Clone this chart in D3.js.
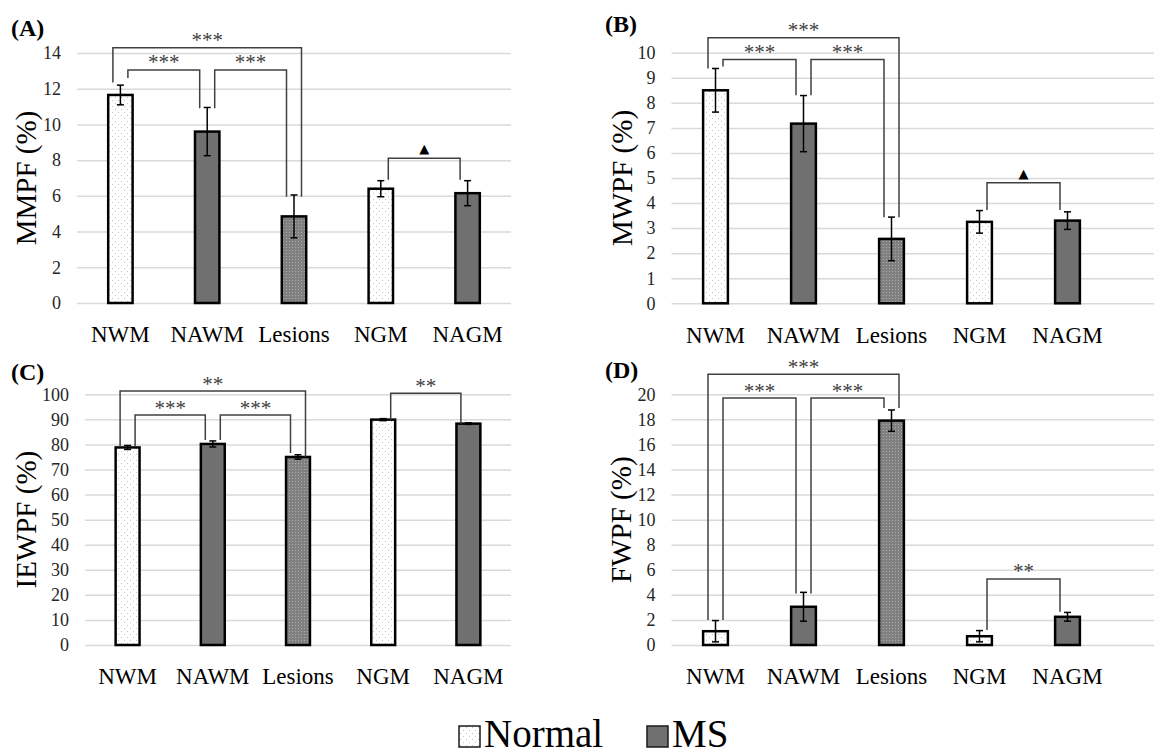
<!DOCTYPE html>
<html>
<head>
<meta charset="utf-8">
<script src="https://cdn.jsdelivr.net/npm/d3@7"></script>
<style>
  body { margin: 0; background: #fff; }
  svg { display: block; font-family: "Liberation Serif", "Times New Roman", serif; }
</style>
</head>
<body>
<svg id="chart"></svg>
<script>
// regions on the x axis
const categories = ["NWM", "NAWM", "Lesions", "NGM", "NAGM"];
// which fill each bar gets (normal / MS / lesion)
const barKind = ["normal", "ms", "lesion", "normal", "ms"];

// means and error (+/-)
const mmpfMean = [11.65, 9.6, 4.85, 6.4, 6.15];
const mmpfErr = [0.55, 1.35, 1.2, 0.45, 0.7];
const mwpfMean = [8.5, 7.17, 2.57, 3.25, 3.3];
const mwpfErr = [0.87, 1.12, 0.87, 0.45, 0.35];
const iewpfMean = [78.8, 80.2, 75.0, 89.9, 88.3];
const iewpfErr = [0.8, 1.2, 0.9, 0.4, 0.3];
const fwpfMean = [1.1, 3.05, 17.9, 0.7, 2.25];
const fwpfErr = [0.85, 1.15, 0.85, 0.45, 0.35];

// significance brackets: from / to category, bracket level, leg ends (data units)
const mmpfBrackets = [
  { a: 0, b: 2, level: 14.3, endA: 12.35, endB: 5.95, label: "***", outer: true },
  { a: 0, b: 1, level: 13.05, endA: 12.6, endB: 10.9, label: "***" },
  { a: 1, b: 2, level: 13.05, endA: 10.9, endB: 5.95, label: "***" },
  { a: 3, b: 4, level: 8.1, endA: 6.9, endB: 6.9, label: "▲" }];
const mwpfBrackets = [
  { a: 0, b: 2, level: 10.6, endA: 9.37, endB: 3.43, label: "***", outer: true },
  { a: 0, b: 1, level: 9.73, endA: 9.45, endB: 8.3, label: "***" },
  { a: 1, b: 2, level: 9.73, endA: 8.3, endB: 3.43, label: "***" },
  { a: 3, b: 4, level: 4.81, endA: 3.72, endB: 3.72, label: "▲" }];
const iewpfBrackets = [
  { a: 0, b: 2, level: 101.3, endA: 79.1, endB: 75.1, label: "**", outer: true },
  { a: 0, b: 1, level: 91.7, endA: 79.4, endB: 81.8, label: "***" },
  { a: 1, b: 2, level: 91.7, endA: 81.8, endB: 76.6, label: "***" },
  { a: 3, b: 4, level: 100.4, endA: 89.9, endB: 88.4, label: "**" }];
const fwpfBrackets = [
  { a: 0, b: 2, level: 21.6, endA: 2.0, endB: 18.9, label: "***", outer: true },
  { a: 0, b: 1, level: 19.7, endA: 2.0, endB: 4.1, label: "***" },
  { a: 1, b: 2, level: 19.7, endA: 4.1, endB: 18.9, label: "***" },
  { a: 3, b: 4, level: 5.27, endA: 1.2, endB: 2.65, label: "**" }];

const legendLabels = ["Normal", "MS"];

const WIDTH = 1154;
const HEIGHT = 755;
const FONT = "'Liberation Serif', 'Times New Roman', serif";

const svg = d3.select("#chart")
  .attr("width", WIDTH)
  .attr("height", HEIGHT);

// fills
const defs = svg.append("defs");
const pNormal = defs.append("pattern")
  .attr("id", "dots-normal")
  .attr("patternUnits", "userSpaceOnUse")
  .attr("width", 6).attr("height", 6);
pNormal.append("rect").attr("width", 6).attr("height", 6).attr("fill", "#fff");
pNormal.append("rect").attr("x", 1).attr("y", 1).attr("width", 1).attr("height", 1).attr("fill", "#c4c4c4");
pNormal.append("rect").attr("x", 4).attr("y", 4).attr("width", 1).attr("height", 1).attr("fill", "#c4c4c4");

const pLesion = defs.append("pattern")
  .attr("id", "dots-lesion")
  .attr("patternUnits", "userSpaceOnUse")
  .attr("width", 3).attr("height", 3);
pLesion.append("rect").attr("width", 3).attr("height", 3).attr("fill", "#808080");
pLesion.append("rect").attr("x", 1).attr("y", 1).attr("width", 1).attr("height", 1).attr("fill", "#ababab");

const fills = { normal: "url(#dots-normal)", ms: "#707070", lesion: "url(#dots-lesion)" };

const panels = [
  { tag: "(A)", title: "MMPF (%)", mean: mmpfMean, err: mmpfErr, brackets: mmpfBrackets,
    yMax: 14, yStep: 2, left: 77, right: 511, gridRight: 511, top: 53, bottom: 303,
    titleX: 26, tagX: 11, tagY: 36 },
  { tag: "(B)", title: "MWPF (%)", mean: mwpfMean, err: mwpfErr, brackets: mwpfBrackets,
    yMax: 10, yStep: 1, left: 671.5, right: 1111.5, gridRight: 1154, top: 52.7, bottom: 303.3,
    titleX: 621.5, tagX: 605, tagY: 32 },
  { tag: "(C)", title: "IEWPF (%)", mean: iewpfMean, err: iewpfErr, brackets: iewpfBrackets,
    yMax: 100, yStep: 10, left: 85, right: 511, gridRight: 511, top: 394.3, bottom: 645,
    titleX: 26, tagX: 11, tagY: 380 },
  { tag: "(D)", title: "FWPF (%)", mean: fwpfMean, err: fwpfErr, brackets: fwpfBrackets,
    yMax: 20, yStep: 2, left: 671.5, right: 1111.5, gridRight: 1154, top: 394.3, bottom: 645,
    titleX: 621, tagX: 605, tagY: 378 }];

const LEG = 7.5;   // bracket leg offset from bar centre

function drawPanel(p) {
  const g = svg.append("g");

  const x = d3.scaleBand()
    .domain(categories)
    .range([p.left, p.right])
    .paddingInner(0.69)
    .paddingOuter(0.345);

  const y = d3.scaleLinear()
    .domain([0, p.yMax])
    .range([p.bottom, p.top]);

  // gridlines + tick labels
  const ticks = d3.range(0, p.yMax + p.yStep / 2, p.yStep);
  const yAxis = g.append("g")
    .attr("transform", `translate(${p.left},0)`)
    .call(d3.axisLeft(y).tickValues(ticks).tickSize(-(p.gridRight - p.left)).tickPadding(16));
  yAxis.select(".domain").remove();
  yAxis.selectAll("line").attr("stroke", "#d9d9d9").attr("stroke-width", 1.5);
  yAxis.selectAll("text")
    .attr("font-family", FONT)
    .attr("font-size", 18)
    .attr("fill", "#262626");

  // category labels
  const xAxis = g.append("g")
    .attr("transform", `translate(0,${p.bottom})`)
    .call(d3.axisBottom(x).tickSize(0).tickPadding(23));
  xAxis.select(".domain").remove();
  xAxis.selectAll("text")
    .attr("font-family", FONT)
    .attr("font-size", 23)
    .attr("fill", "#000");

  // bars
  const bw = x.bandwidth();
  g.selectAll(".bar")
    .data(categories)
    .enter()
    .append("rect")
    .attr("class", "bar")
    .attr("x", d => x(d) + 1.25)
    .attr("width", bw - 2.5)
    .attr("y", (d, i) => y(p.mean[i]))
    .attr("height", (d, i) => y(0) - y(p.mean[i]))
    .attr("fill", (d, i) => fills[barKind[i]])
    .attr("stroke", "#000")
    .attr("stroke-width", 2.5);

  // error bars
  const eb = g.selectAll(".err")
    .data(categories)
    .enter()
    .append("g")
    .attr("class", "err")
    .attr("transform", d => `translate(${x(d) + bw / 2},0)`)
    .attr("stroke", "#000")
    .attr("stroke-width", 1.5);
  eb.append("line")
    .attr("y1", (d, i) => y(p.mean[i] - p.err[i]))
    .attr("y2", (d, i) => y(p.mean[i] + p.err[i]));
  eb.append("line")
    .attr("x1", -3.5).attr("x2", 3.5)
    .attr("y1", (d, i) => y(p.mean[i] + p.err[i]))
    .attr("y2", (d, i) => y(p.mean[i] + p.err[i]));
  eb.append("line")
    .attr("x1", -3.5).attr("x2", 3.5)
    .attr("y1", (d, i) => y(p.mean[i] - p.err[i]))
    .attr("y2", (d, i) => y(p.mean[i] - p.err[i]));

  // significance brackets
  const cx = i => x(categories[i]) + bw / 2;
  const br = g.selectAll(".bracket")
    .data(p.brackets)
    .enter()
    .append("g")
    .attr("class", "bracket");
  br.append("path")
    .attr("d", b => {
      const xa = cx(b.a) + (b.outer ? -LEG : LEG);
      const xb = cx(b.b) + (b.outer ? LEG : -LEG);
      return `M${xa},${y(b.endA)}V${y(b.level)}H${xb}V${y(b.endB)}`;
    })
    .attr("fill", "none")
    .attr("stroke", "#404040")
    .attr("stroke-width", 1.5);
  br.append("text")
    .attr("x", b => (cx(b.a) + cx(b.b)) / 2)
    .attr("y", b => b.label === "▲" ? y(b.level) - 5 : y(b.level) - 0.5)
    .attr("text-anchor", "middle")
    .attr("font-family", b => b.label === "▲" ? "'DejaVu Sans', sans-serif" : FONT)
    .attr("font-size", b => b.label === "▲" ? 13 : 21)
    .attr("fill", b => b.label === "▲" ? "#000" : "#404040")
    .text(b => b.label);

  // axis title
  g.append("text")
    .attr("transform", `translate(${p.titleX},${(p.top + p.bottom) / 2}) rotate(-90)`)
    .attr("text-anchor", "middle")
    .attr("dy", "0.35em")
    .attr("font-family", FONT)
    .attr("font-size", 29)
    .attr("fill", "#000")
    .text(p.title);

  // panel tag
  g.append("text")
    .attr("x", p.tagX)
    .attr("y", p.tagY)
    .attr("font-family", FONT)
    .attr("font-weight", "bold")
    .attr("font-size", 24)
    .attr("fill", "#000")
    .text(p.tag);
}

panels.forEach(drawPanel);

// legend
const legendX = d3.scalePoint().domain(legendLabels).range([459, 647]);
const lg = svg.selectAll(".legend")
  .data(legendLabels)
  .enter()
  .append("g")
  .attr("class", "legend")
  .attr("transform", d => `translate(${legendX(d)},726)`);
lg.append("rect")
  .attr("width", 21)
  .attr("height", 21)
  .attr("fill", (d, i) => i === 0 ? fills.normal : fills.ms)
  .attr("stroke", "#1a1a1a")
  .attr("stroke-width", 1.5);
lg.append("text")
  .attr("x", 25)
  .attr("y", 20.5)
  .attr("font-family", FONT)
  .attr("font-size", 39)
  .attr("fill", "#000")
  .text(d => d);
</script>
</body>
</html>
